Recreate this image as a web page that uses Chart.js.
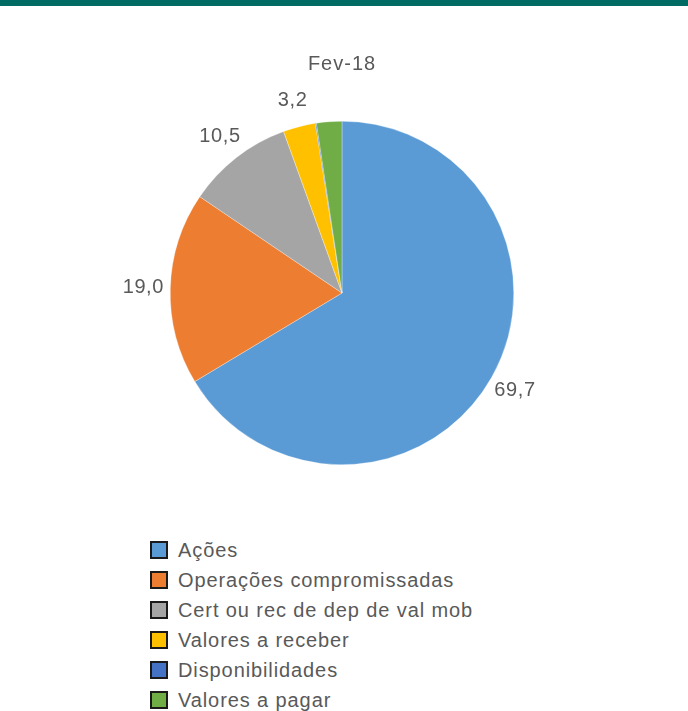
<!DOCTYPE html>
<html><head><meta charset="utf-8">
<script src="https://cdn.jsdelivr.net/npm/chart.js@4"></script>
<style>
html,body{margin:0;padding:0;background:#fff}
body{width:688px;height:711px;overflow:hidden;position:relative;font-family:"Liberation Sans",Arial,sans-serif}
#bar{position:absolute;left:0;top:0;width:688px;height:6px;background:#006B63;z-index:2}
#wrap{position:absolute;left:0;top:0;width:688px;height:520px}
#legend{position:absolute;left:150px;top:535px}
.item{display:flex;align-items:center;height:30px}
.sw{width:18px;height:18px;box-sizing:border-box;border:2px solid #1a1a1a}
.tx{margin-left:10px;color:#595959;font-size:20px;letter-spacing:0.9px;white-space:nowrap}
</style></head>
<body>
<div id="bar"></div>
<div id="wrap"><canvas id="c" width="688" height="520"></canvas></div>
<div id="legend"></div>
<script>
const title = "Fev-18";
const categories = ["Ações","Operações compromissadas","Cert ou rec de dep de val mob","Valores a receber","Disponibilidades","Valores a pagar"];
const values = [69.7, 19.0, 10.5, 3.2, 0.1, 2.5];
const showLabel = [true, true, true, true, false, false];
const colors = ["#5B9BD5","#ED7D31","#A5A5A5","#FFC000","#4472C4","#70AD47"];

const fmt = v => v.toFixed(1).replace('.', ',');

const labelPlugin = {
  id: 'sliceLabels',
  afterDatasetsDraw(chart) {
    const ctx = chart.ctx;
    const meta = chart.getDatasetMeta(0);
    ctx.save();
    ctx.font = '20px "Liberation Sans", Arial, sans-serif';
    try { ctx.letterSpacing = '0.6px'; } catch(e) {}
    ctx.fillStyle = '#595959';
    ctx.textAlign = 'center';
    ctx.textBaseline = 'middle';
    meta.data.forEach((arc, i) => {
      if (!showLabel[i]) return;
      const p = arc.getProps(['x','y','startAngle','endAngle','outerRadius'], true);
      const mid = (p.startAngle + p.endAngle) / 2;
      const r = p.outerRadius + 27;
      ctx.fillText(fmt(values[i]), p.x + Math.cos(mid) * r, p.y + Math.sin(mid) * r);
    });
    try { ctx.letterSpacing = '1px'; } catch(e) {}
    ctx.fillText(title, meta.data[0].x, 64);
    ctx.restore();
  }
};

new Chart(document.getElementById('c'), {
  type: 'pie',
  data: {
    labels: categories,
    datasets: [{
      data: values,
      backgroundColor: colors,
      borderColor: 'rgba(255,255,255,0.6)',
      borderWidth: 0.5
    }]
  },
  options: {
    responsive: false,
    animation: false,
    layout: { padding: { top: 121, bottom: 55, left: 170, right: 174 } },
    plugins: {
      legend: { display: false },
      tooltip: { enabled: false },
      title: { display: false }
    }
  },
  plugins: [labelPlugin]
});

const lg = document.getElementById('legend');
categories.forEach((c, i) => {
  const it = document.createElement('div'); it.className = 'item';
  const sw = document.createElement('div'); sw.className = 'sw'; sw.style.background = colors[i];
  const tx = document.createElement('span'); tx.className = 'tx'; tx.textContent = c;
  it.appendChild(sw); it.appendChild(tx); lg.appendChild(it);
});
</script>
</body></html>
